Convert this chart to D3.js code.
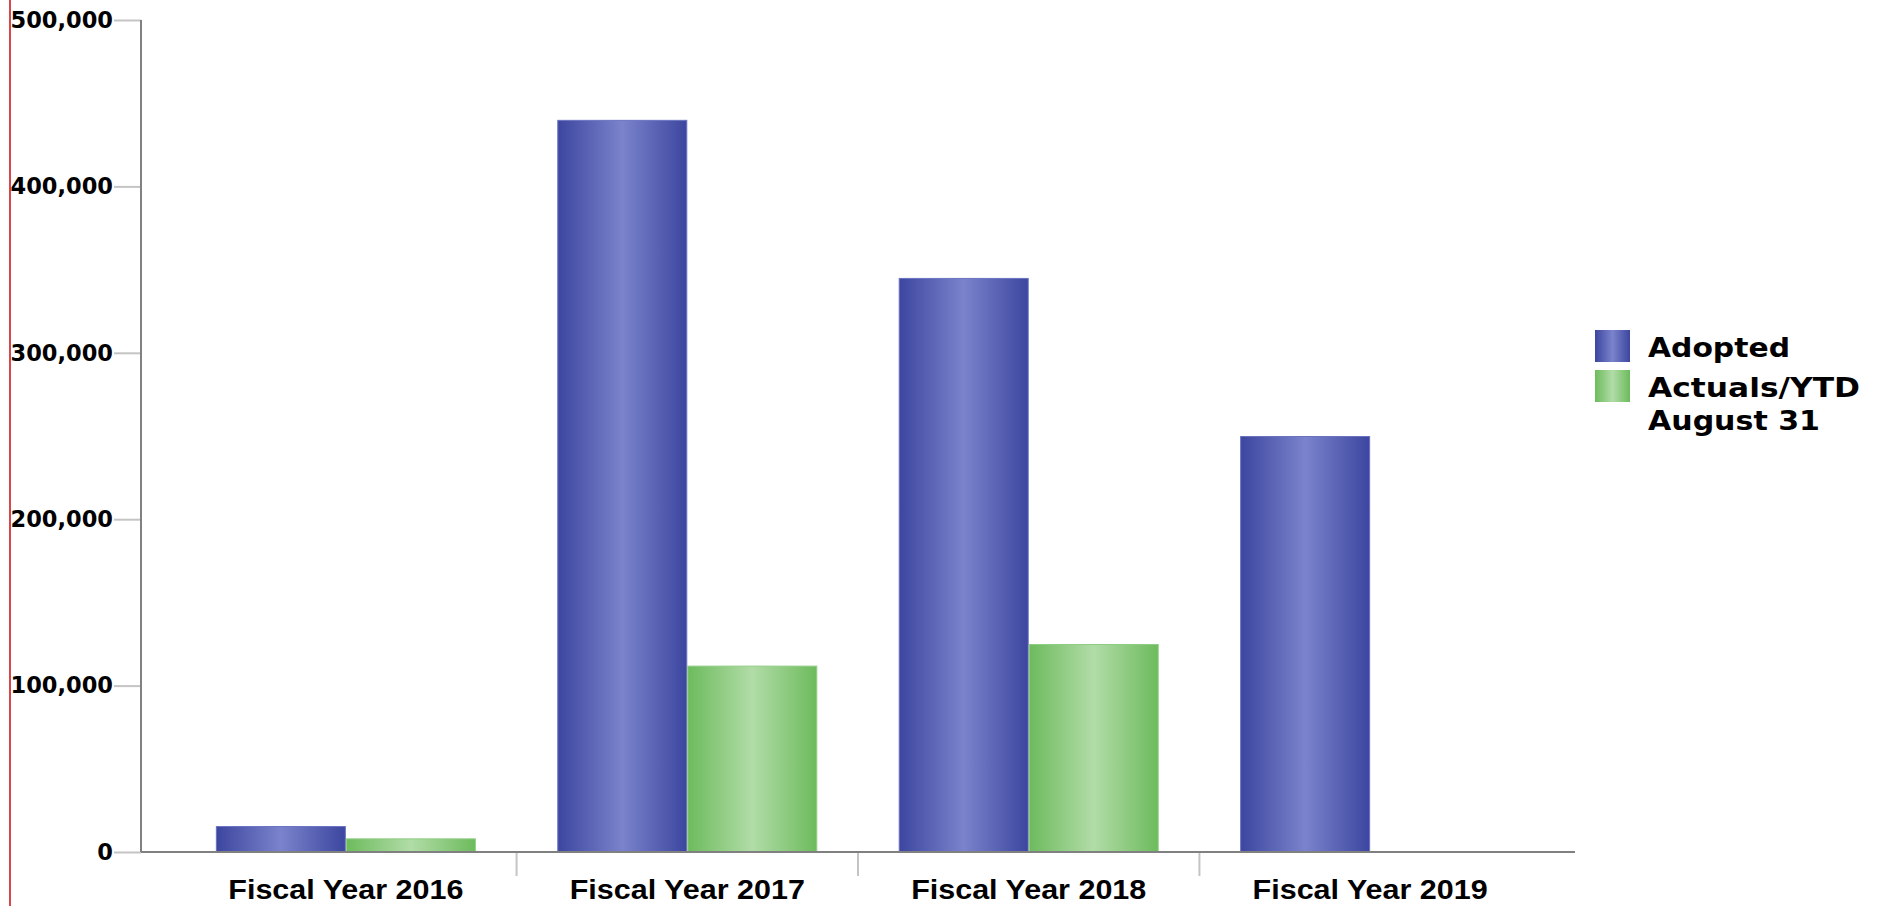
<!DOCTYPE html>
<html>
<head>
<meta charset="utf-8">
<script src="https://cdn.jsdelivr.net/npm/d3@7/dist/d3.min.js"></script>
<style>
  html, body { margin: 0; padding: 0; background: #fff; }
  svg { display: block; }
</style>
</head>
<body>
<svg id="chart" width="1882" height="906"></svg>
<script>
// Budget figures per fiscal year
const categories = ["Fiscal Year 2016", "Fiscal Year 2017", "Fiscal Year 2018", "Fiscal Year 2019"];
const adopted = [15600, 440000, 345000, 250000];
const actuals = [8200, 112000, 125000, null];
const seriesNames = ["Adopted", "Actuals/YTD August 31"];
const legendLines = [["Adopted"], ["Actuals/YTD", "August 31"]];
const yTickValues = [0, 100000, 200000, 300000, 400000, 500000];

const svg = d3.select("#chart");
const W = 1882, H = 906;
const plot = { left: 141, right: 1575, top: 20, bottom: 852 };

// Gradients: dark edges, light centre
const defs = svg.append("defs");
function cylinderGradient(id, edge, mid) {
  const g = defs.append("linearGradient").attr("id", id)
    .attr("x1", "0%").attr("x2", "100%").attr("y1", "0%").attr("y2", "0%");
  g.append("stop").attr("offset", "0%").attr("stop-color", edge);
  g.append("stop").attr("offset", "50%").attr("stop-color", mid);
  g.append("stop").attr("offset", "100%").attr("stop-color", edge);
}
cylinderGradient("gradBlue", "#3c469f", "#7a83cb");
cylinderGradient("gradGreen", "#6dbb5d", "#b1dca7");
const fills = ["url(#gradBlue)", "url(#gradGreen)"];
const outlines = ["#6a72c0", "#90cd84"];

// Red rule at the far left
svg.append("line")
  .attr("x1", 10).attr("x2", 10).attr("y1", 0).attr("y2", H)
  .attr("stroke", "#d8474a").attr("stroke-width", 2);

// Scales
const x0 = d3.scaleBand().domain(categories)
  .range([plot.left, plot.right]).paddingInner(0).paddingOuter(0.1);
const groupWidth = 260;
const x1 = d3.scaleBand().domain(seriesNames)
  .range([(x0.bandwidth() - groupWidth) / 2, (x0.bandwidth() + groupWidth) / 2])
  .padding(0);
const y = d3.scaleLinear().domain([0, 500000]).range([plot.bottom, plot.top]);

// Y axis
const yAxis = d3.axisLeft(y).tickValues(yTickValues)
  .tickFormat(d3.format(",")).tickSize(27).tickPadding(1);
const gy = svg.append("g").attr("transform", `translate(${plot.left},0)`).call(yAxis);
gy.select(".domain").remove();
gy.selectAll(".tick line").attr("stroke", "#c4c4c4").attr("stroke-width", 2);
gy.selectAll(".tick text")
  .attr("font-family", "'DejaVu Sans', Verdana, sans-serif")
  .attr("font-weight", "bold").attr("font-size", 22.5).attr("fill", "#000");
svg.append("line")
  .attr("x1", plot.left).attr("x2", plot.left)
  .attr("y1", plot.top).attr("y2", plot.bottom)
  .attr("stroke", "#808080").attr("stroke-width", 2);

// Bars
const rows = categories.map((c, i) => ({ cat: c, values: [adopted[i], actuals[i]] }));
const groups = svg.append("g").selectAll("g").data(rows).join("g")
  .attr("transform", d => `translate(${x0(d.cat)},0)`);
groups.selectAll("rect.bar")
  .data(d => d.values.map((v, k) => ({ v, k })).filter(e => e.v != null))
  .join("rect").attr("class", "bar")
  .attr("x", e => x1(seriesNames[e.k]) + 0.5)
  .attr("width", x1.bandwidth() - 1)
  .attr("y", e => y(e.v) + 0.5)
  .attr("height", e => y(0) - y(e.v) - 0.5)
  .attr("fill", e => fills[e.k])
  .attr("stroke", e => outlines[e.k]).attr("stroke-width", 1);

// X axis: labels are set in a wide bold face, stretched slightly
const xAxis = d3.axisBottom(x0).tickSize(0).tickPadding(0);
const gx = svg.append("g").attr("transform", `translate(0,${plot.bottom})`).call(xAxis);
gx.select(".domain").remove();
gx.selectAll(".tick text")
  .attr("y", 0).attr("dy", 0)
  .attr("transform", "translate(0,47) scale(1.09,1)")
  .attr("font-family", "'Liberation Sans', Arial, sans-serif")
  .attr("font-weight", "bold").attr("font-size", 28).attr("fill", "#000");
// Separators between categories
svg.append("g").selectAll("line").data(categories.slice(1)).join("line")
  .attr("x1", d => x0(d)).attr("x2", d => x0(d))
  .attr("y1", plot.bottom).attr("y2", plot.bottom + 24)
  .attr("stroke", "#c4c4c4").attr("stroke-width", 2);
svg.append("line")
  .attr("x1", plot.left).attr("x2", plot.right)
  .attr("y1", plot.bottom).attr("y2", plot.bottom)
  .attr("stroke", "#808080").attr("stroke-width", 2);

// Legend: wide-set bold labels, each line fitted to its run length
const legendLineWidths = [[142], [212, 172]];
const legend = svg.append("g").attr("transform", "translate(1595,330)");
const items = legend.selectAll("g").data(seriesNames).join("g")
  .attr("transform", (d, i) => `translate(0,${i * 40})`);
items.append("rect").attr("width", 35).attr("height", 32)
  .attr("fill", (d, i) => fills[i]);
items.each(function (d, i) {
  d3.select(this).selectAll("text")
    .data(legendLines[i].map((t, j) => ({ t, j, w: legendLineWidths[i][j] })))
    .join("text")
    .attr("x", 53).attr("y", l => 27 + l.j * 33)
    .attr("textLength", l => l.w).attr("lengthAdjust", "spacingAndGlyphs")
    .attr("font-family", "'DejaVu Sans', Verdana, sans-serif")
    .attr("font-weight", "bold").attr("font-size", 27).attr("fill", "#000")
    .text(l => l.t);
});
</script>
</body>
</html>
